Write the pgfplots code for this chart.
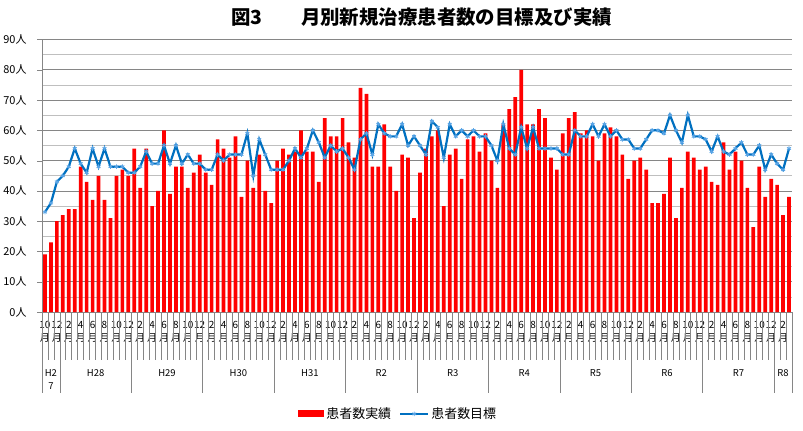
\documentclass[border=0pt]{standalone}
\usepackage{fontspec}
\setmainfont{Noto Sans CJK JP}
\usepackage{pgfplots}
\usepackage{pgfplotstable}
\pgfplotsset{compat=1.18}

\definecolor{barred}{RGB}{255,0,0}
\definecolor{lineblue}{RGB}{0,112,192}
\definecolor{markblue}{RGB}{90,165,230}
\definecolor{gridmajor}{RGB}{134,134,134}
\definecolor{gridminor}{RGB}{191,191,191}

% m: month index from H27 Oct, actual: new patients, target: goal
\pgfplotstableread{
m actual target
1 19 33
2 23 36
3 30 43
4 32 45
5 34 48
6 34 54
7 48 49
8 43 46
9 37 54
10 45 48
11 37 54
12 31 48
13 45 48
14 47 48
15 45 46
16 54 46
17 41 48
18 54 53
19 35 49
20 40 49
21 60 55
22 39 49
23 48 55
24 48 49
25 41 52
26 46 49
27 52 49
28 46 47
29 42 47
30 57 52
31 54 50
32 51 52
33 58 52
34 38 52
35 50 59
36 41 45
37 52 57
38 40 52
39 36 47
40 50 47
41 54 47
42 52 50
43 53 54
44 60 51
45 53 54
46 53 60
47 43 56
48 64 51
49 58 55
50 58 53
51 64 54
52 56 51
53 51 47
54 74 57
55 72 59
56 48 52
57 48 62
58 62 59
59 48 58
60 40 58
61 52 62
62 51 55
63 31 58
64 46 55
65 54 52
66 58 63
67 60 61
68 35 51
69 52 62
70 54 58
71 44 60
72 57 58
73 58 60
74 53 58
75 59 58
76 50 55
77 41 50
78 62 62
79 67 54
80 71 52
81 80 61
82 62 54
83 62 61
84 67 54
85 64 54
86 51 54
87 47 54
88 59 52
89 64 52
90 66 60
91 59 58
92 60 58
93 58 62
94 50 58
95 59 62
96 61 58
97 58 60
98 52 57
99 44 57
100 50 54
101 51 54
102 47 57
103 36 60
104 36 60
105 39 59
106 51 65
107 31 60
108 41 56
109 53 65
110 51 58
111 47 58
112 48 57
113 43 53
114 42 58
115 56 53
116 47 52
117 53 54
118 50 56
119 41 52
120 28 52
121 48 55
122 38 47
123 44 52
124 42 49
125 32 47
126 38 54
}\monthly

\begin{document}
\begin{tikzpicture}
\useasboundingbox (0,0) rectangle (803bp,431bp);
\node[font=\bfseries\fontsize{19.5}{21}\selectfont] at (421.5bp,414bp)
  {図3\hspace{2em}月別新規治療患者数の目標及び実績};
\begin{axis}[
  at={(42bp,119bp)}, anchor=south west,
  scale only axis, width=750bp, height=272.5bp,
  xmin=0.5, xmax=126.5, ymin=0, ymax=90,
  axis x line*=bottom, axis y line*=left,
  axis line style={-, draw=gridmajor},
  clip=false,
  ytick={0,10,...,90}, minor y tick num=1,
  ymajorgrids, yminorgrids,
  major grid style={draw=gridmajor, line width=0.7bp},
  minor grid style={draw=gridminor, line width=0.7bp},
  tick align=outside, major tick length=5bp,
  ytick style={draw=gridmajor},
  minor y tick style={draw=none},
  yticklabel={\pgfmathtruncatemacro\v{\tick}\v 人},
  yticklabel style={font=\fontsize{11}{13}\selectfont, anchor=east, xshift=-7bp},
  xtick={1,3,...,125},
  xtick style={draw=none},
  xticklabel={\pgfmathtruncatemacro\m{mod(9+2*\ticknum,12)+1}\m\\月},
  xticklabel style={font=\fontsize{10}{13}\selectfont, align=center, anchor=north, yshift=-3bp, inner sep=1bp},
  legend style={draw=none, fill=none, at={(0.475,-0.374)}, anchor=center,
    legend columns=2, font=\fontsize{13}{15}\selectfont,
    /tikz/every even column/.append style={column sep=6bp}},
]
\addplot[ybar, bar width=0.62, fill=barred, draw=none,
  legend image code/.code={\fill[barred] (0bp,-3.5bp) rectangle (26bp,3.5bp);}]
  table[x=m, y=actual] {\monthly};
\addlegendentry{患者数実績}
\addplot[lineblue, line width=2.2bp, mark=asterisk, mark size=2.3bp,
  mark options={draw=markblue, line width=0.8bp},
  legend image code/.code={\draw[mark repeat=2, mark phase=2] plot coordinates {(0bp,0bp) (14bp,0bp) (28bp,0bp)};}]
  table[x=m, y=target] {\monthly};
\addlegendentry{患者数目標}

% month separators and year group row
\pgfplotsinvokeforeach{0.5,1.5,...,126.5}{
  \draw[gridmajor, line width=0.7bp] (axis cs:#1,0) -- ++(0bp,-48bp);
}
\pgfplotsinvokeforeach{0.5,3.5,15.5,27.5,39.5,51.5,63.5,75.5,87.5,99.5,111.5,123.5,126.5}{
  \draw[gridmajor, line width=0.7bp] (axis cs:#1,0) -- ++(0bp,-81bp);
}
\begin{scope}[every node/.style={font=\fontsize{9.5}{13}\selectfont, align=center}]
\node at ([yshift=-67.5bp]axis cs:2,0) {H2\\7};
\node at ([yshift=-61bp]axis cs:9.5,0) {H28};
\node at ([yshift=-61bp]axis cs:21.5,0) {H29};
\node at ([yshift=-61bp]axis cs:33.5,0) {H30};
\node at ([yshift=-61bp]axis cs:45.5,0) {H31};
\node at ([yshift=-61bp]axis cs:57.5,0) {R2};
\node at ([yshift=-61bp]axis cs:69.5,0) {R3};
\node at ([yshift=-61bp]axis cs:81.5,0) {R4};
\node at ([yshift=-61bp]axis cs:93.5,0) {R5};
\node at ([yshift=-61bp]axis cs:105.5,0) {R6};
\node at ([yshift=-61bp]axis cs:117.5,0) {R7};
\node at ([yshift=-61bp]axis cs:125,0) {R8};
\end{scope}
\end{axis}
\end{tikzpicture}
\end{document}
